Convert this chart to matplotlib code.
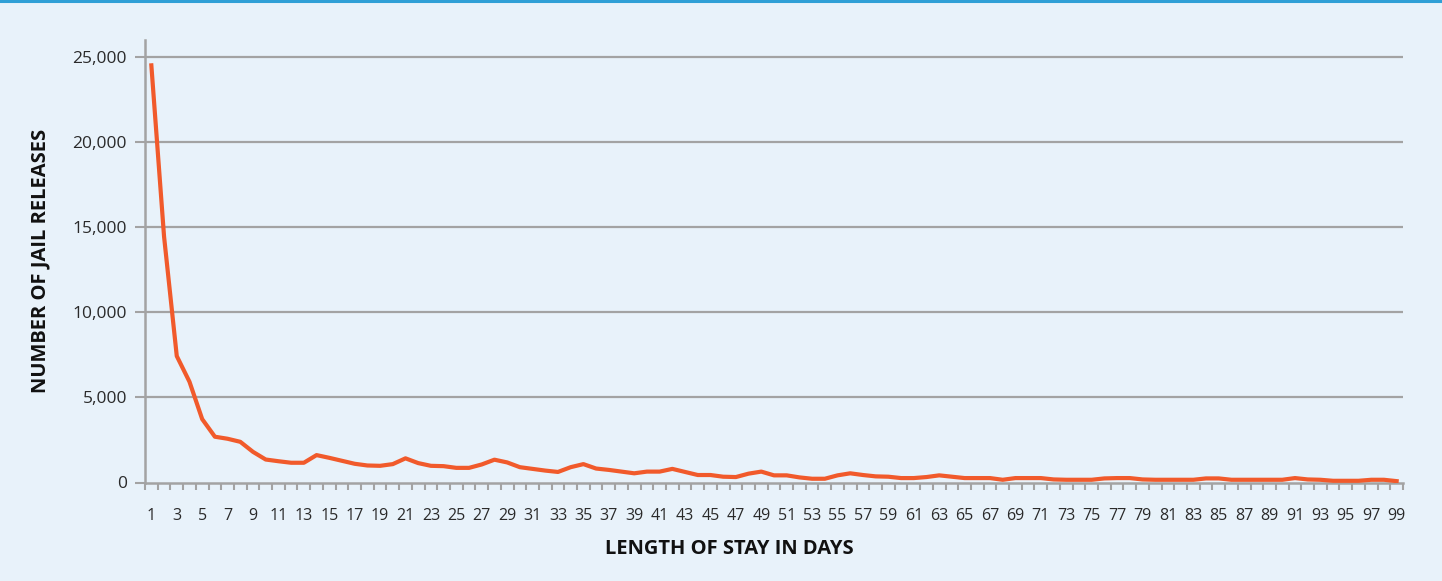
import numpy as np
import matplotlib
matplotlib.use("Agg")
from matplotlib import pyplot as plt
from matplotlib.ticker import FuncFormatter

# length of stay (days) and number of jail releases
days = list(range(1, 100))
releases = [
    24510, 14450, 7430, 5920, 3725, 2690, 2570, 2390, 1800, 1350,
    1250, 1160, 1160, 1610, 1450, 1275, 1100, 1000, 980, 1080,
    1420, 1140, 980, 960, 860, 860, 1060, 1340, 1180, 900,
    800, 700, 620, 900, 1080, 820, 740, 640, 540, 640,
    640, 800, 620, 440, 440, 340, 320, 520, 640, 420,
    420, 300, 220, 220, 420, 540, 440, 360, 340, 260,
    260, 320, 420, 340, 260, 260, 260, 160, 260, 260,
    260, 180, 160, 160, 160, 240, 260, 260, 180, 160,
    160, 160, 160, 240, 240, 160, 160, 160, 160, 160,
    260, 180, 160, 100, 100, 100, 160, 160, 80,
]
y_ticks = [0, 5000, 10000, 15000, 20000, 25000]
x_label_days = days[::2]

bg = "#e8f2fa"
grid_col = "#a3a3a3"
line_col = "#f15a2b"
text_col = "#2a2a2a"

plt.rcParams["font.family"] = ["Open Sans", "DejaVu Sans"]

fig = plt.figure(figsize=(14.42, 5.81), dpi=100, facecolor=bg)
ax = fig.add_axes([145 / 1442, 98.5 / 581, 1258 / 1442, 442.5 / 581])
ax.set_facecolor(bg)

# blue stripe along the top edge
fig.add_artist(plt.Line2D([0, 1], [1 - 1 / 581, 1 - 1 / 581], transform=fig.transFigure,
                          color="#2f9fd6", lw=2.2))

ax.plot(days, releases, color=line_col, lw=3, solid_joinstyle="round", zorder=3)

ax.set_xlim(0.5, 99.5)
ax.set_ylim(0, 26000)

for v in y_ticks[1:]:
    ax.axhline(v, color=grid_col, lw=1.6, zorder=1)

ax.set_yticks(y_ticks)
ax.yaxis.set_major_formatter(FuncFormatter(lambda v, p: f"{int(v):,}"))
ax.tick_params(axis="y", length=7, width=1.5, color=grid_col, pad=6,
               labelsize=12.5, labelcolor=text_col)

# category boundaries carry the ticks, odd days carry the labels
ax.set_xticks(np.arange(0.5, 100.5, 1.0))
ax.set_xticklabels([])
ax.set_xticks(x_label_days, minor=True)
ax.set_xticklabels([str(d) for d in x_label_days], minor=True)
ax.tick_params(axis="x", which="major", length=5, width=1.5, color=grid_col)
ax.tick_params(axis="x", which="minor", length=0, pad=18, labelsize=11.5,
               labelcolor=text_col)

for s in ["top", "right"]:
    ax.spines[s].set_visible(False)
for s in ["left", "bottom"]:
    ax.spines[s].set_color(grid_col)
    ax.spines[s].set_linewidth(1.8)

fig.text(729 / 1442, 1 - 549 / 581, "LENGTH OF STAY IN DAYS", ha="center", va="center",
         fontsize=14.5, fontweight="bold", color="#111111")
fig.text(40 / 1442, 1 - 261 / 581, "NUMBER OF JAIL RELEASES", ha="center", va="center",
         rotation=90, fontsize=14.5, fontweight="bold", color="#111111")

fig.savefig("out.png", dpi=100, facecolor=bg)
